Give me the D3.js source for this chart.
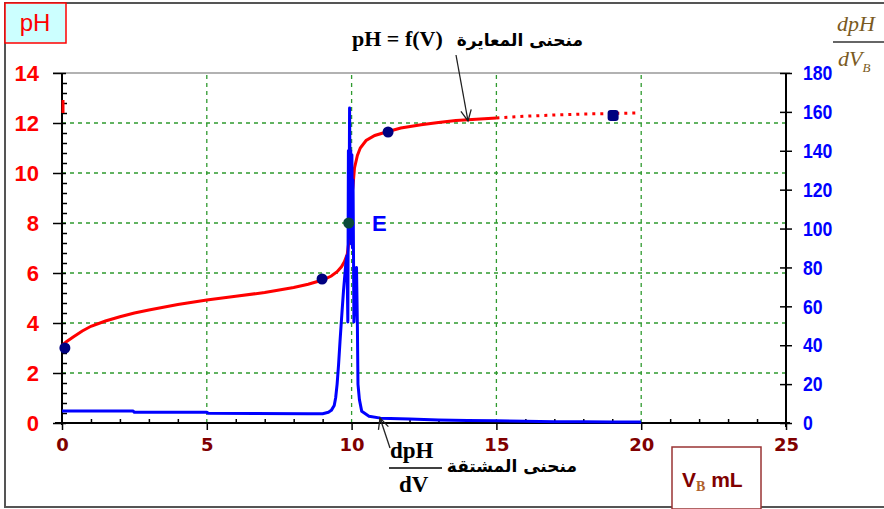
<!DOCTYPE html>
<html>
<head>
<meta charset="utf-8">
<script src="https://cdn.jsdelivr.net/npm/d3@7"></script>
<style>
	body { margin: 0; background: #fff; }
	svg { display: block; }
</style>
</head>
<body>
<div id="chart"></div>
<script>
const width = 884;
const height = 509;

// axis ticks
const vbTicks = [0, 5, 10, 15, 20, 25];
const phTicks = [0, 2, 4, 6, 8, 10, 12, 14];
const derivTicks = [0, 20, 40, 60, 80, 100, 120, 140, 160, 180];

// titration curve pH = f(V), solid part
const phV = [0, 0.15, 0.4, 0.7, 1.0, 1.5, 2.0, 2.5, 3.0, 4.0, 5.0, 6.0, 7.0, 7.5, 8.0, 8.5, 9.0, 9.3, 9.5, 9.65, 9.75, 9.85, 9.9, 9.95, 10.0, 10.05, 10.1, 10.2, 10.3, 10.5, 10.8, 11.2, 11.7, 12.4, 13.0, 13.6, 14.3, 15.0];
const phVal = [3.1, 3.25, 3.45, 3.68, 3.87, 4.08, 4.25, 4.4, 4.52, 4.74, 4.92, 5.07, 5.22, 5.32, 5.42, 5.55, 5.72, 5.88, 6.05, 6.25, 6.45, 6.75, 7.2, 8.0, 9.0, 9.5, 10.2, 10.7, 11.0, 11.3, 11.5, 11.64, 11.8, 11.93, 12.02, 12.1, 12.15, 12.2];

// titration curve, dotted end
const phDotV = [15.0, 16.0, 17.0, 18.0, 19.0, 19.8];
const phDotVal = [12.2, 12.27, 12.32, 12.36, 12.38, 12.4];

// derivative dpH/dV
const derivV = [0, 2.45, 2.5, 5.0, 5.05, 8.5, 9.0, 9.2, 9.3, 9.4, 9.45, 9.5, 9.55, 9.6, 9.65, 9.72, 9.8, 9.84, 9.87, 9.89, 9.91, 9.93, 9.95, 9.97, 9.99, 10.01, 10.03, 10.05, 10.08, 10.17, 10.2, 10.22, 10.27, 10.35, 10.6, 11.0, 12.0, 13.0, 14.0, 15.0, 16.0, 17.0, 18.0, 19.0, 20.0];
const derivVal = [6.2, 6.2, 5.5, 5.5, 5.0, 4.8, 4.8, 5.5, 6.5, 9, 13, 20, 30, 42, 53, 68, 82, 86, 52, 140, 95, 162, 120, 140, 92, 138, 90, 125, 52, 80, 50, 20, 12, 6, 3.5, 2.5, 2.0, 1.6, 1.3, 1.1, 0.9, 0.7, 0.6, 0.5, 0.5];

// marked points
const ptV = [0.1, 8.98, 9.9, 11.26, 19.03];
const ptPH = [3.0, 5.76, 8.0, 11.64, 12.3];

const svg = d3.select("#chart")
	.append("svg")
	.attr("width", width)
	.attr("height", height)

const x = d3.scaleLinear().domain([0, 25]).range([62, 786])
const yL = d3.scaleLinear().domain([0, 14]).range([423, 73])
const yR = d3.scaleLinear().domain([0, 180]).range([423, 73])

// outer frame
svg.append("rect")
	.attr("x", 5).attr("y", 3)
	.attr("width", 900).attr("height", 504)
	.attr("fill", "none")
	.attr("stroke", "#555")
	.attr("stroke-width", 2)

// top border of the plot
svg.append("line")
	.attr("x1", 53).attr("x2", 790)
	.attr("y1", yL(14)).attr("y2", yL(14))
	.attr("stroke", "#999")
	.attr("stroke-width", 1.5)

// grid
const grid = svg.append("g")
	.attr("stroke", "#2f9a2f")
	.attr("stroke-width", 1.3)
	.attr("stroke-dasharray", "4,4")

grid.selectAll(".hg")
	.data(phTicks.filter(d => d > 0 && d < 14))
	.join("line")
	.attr("x1", x(0)).attr("x2", x(25))
	.attr("y1", d => yL(d)).attr("y2", d => yL(d))

grid.selectAll(".vg")
	.data(vbTicks.filter(d => d > 0 && d < 25))
	.join("line")
	.attr("x1", d => x(d)).attr("x2", d => x(d))
	.attr("y1", yL(0)).attr("y2", yL(14))

// left axis, pH
const leftAxis = svg.append("g")
	.attr("transform", `translate(${x(0)},0)`)
	.call(d3.axisLeft(yL).tickValues(phTicks).tickSizeInner(9).tickSizeOuter(0).tickPadding(14))
leftAxis.selectAll("text")
	.attr("fill", "#ff0000")
	.style("font", "bold 22px 'Liberation Sans', Arial, sans-serif")
leftAxis.selectAll("line").attr("x2", -9).attr("x1", 4).attr("stroke", "#000").attr("stroke-width", 1.5)
leftAxis.select(".domain").attr("stroke", "#000").attr("stroke-width", 2)
	.attr("d", `M0,${yL(14)}V${yL(0) + 2}`)

// left minor ticks
const phMinor = d3.range(0, 14.01, 0.4).filter(d => Math.abs(d / 2 - Math.round(d / 2)) > 0.01)
svg.append("g")
	.attr("transform", `translate(${x(0)},0)`)
	.call(d3.axisRight(yL).tickValues(phMinor).tickSize(5).tickFormat(""))
	.call(g => g.select(".domain").remove())
	.selectAll("line").attr("stroke", "#000").attr("stroke-width", 1.5)

// bottom axis, volume
const bottomAxis = svg.append("g")
	.attr("transform", `translate(0,${yL(0)})`)
	.call(d3.axisBottom(x).tickValues(vbTicks).tickSizeInner(7).tickSizeOuter(0).tickPadding(8))
bottomAxis.selectAll("text")
	.attr("fill", "#800000")
	.style("font", "bold 18px 'DejaVu Sans', Verdana, sans-serif")
bottomAxis.selectAll("line").attr("stroke", "#000").attr("stroke-width", 1.5)
bottomAxis.select(".domain").attr("stroke", "#000").attr("stroke-width", 2)
	.attr("d", `M55,0H790`)

// bottom minor ticks
svg.append("g")
	.attr("transform", `translate(0,${yL(0)})`)
	.call(d3.axisTop(x).tickValues(d3.range(1, 25).filter(d => d % 5 != 0)).tickSize(4).tickFormat(""))
	.call(g => g.select(".domain").remove())
	.selectAll("line").attr("stroke", "#000").attr("stroke-width", 1.5)

// right axis, derivative
const rightAxis = svg.append("g")
	.attr("transform", `translate(${x(25)},0)`)
	.call(d3.axisRight(yR).tickValues(derivTicks).tickSizeInner(6).tickSizeOuter(0).tickPadding(11))
rightAxis.selectAll("text")
	.attr("fill", "#0000ff")
	.style("font", "bold 21px 'Liberation Sans', Arial, sans-serif")
	.each(function(){
		// squeeze into a narrow face
		let w = this.getComputedTextLength()
		d3.select(this).attr("textLength", w * 0.84).attr("lengthAdjust", "spacingAndGlyphs")
	})
rightAxis.selectAll("line").attr("x1", -6).attr("stroke", "#000").attr("stroke-width", 1.5)
rightAxis.select(".domain").attr("stroke", "#000").attr("stroke-width", 2)
	.attr("d", `M0,${yR(180)}V${yR(0) + 4}`)

// titration curve
const linePH = d3.line().x(d => x(d[0])).y(d => yL(d[1]))

svg.append("path")
	.datum(d3.zip(phV, phVal))
	.attr("d", linePH)
	.attr("fill", "none")
	.attr("stroke", "#ff0000")
	.attr("stroke-width", 3)

svg.append("path")
	.datum(d3.zip(phDotV, phDotVal))
	.attr("d", linePH)
	.attr("fill", "none")
	.attr("stroke", "#ff0000")
	.attr("stroke-width", 3)
	.attr("stroke-dasharray", "3,5")

// little red mark on the pH axis
svg.append("line")
	.attr("x1", x(0) + 1).attr("x2", x(0) + 1)
	.attr("y1", 100).attr("y2", 113)
	.attr("stroke", "#ff0000")
	.attr("stroke-width", 3)

// derivative curve
const lineD = d3.line().x(d => x(d[0])).y(d => yR(d[1]))

svg.append("path")
	.datum(d3.zip(derivV, derivVal))
	.attr("d", lineD)
	.attr("fill", "none")
	.attr("stroke", "#0000ff")
	.attr("stroke-width", 3)
	.attr("stroke-linejoin", "round")

// points
svg.selectAll(".pt")
	.data(d3.zip(ptV, ptPH))
	.join("rect")
	.attr("x", d => x(d[0]) - 5.5)
	.attr("y", d => yL(d[1]) - 5.5)
	.attr("width", 11).attr("height", 11)
	.attr("rx", (d, i) => i == ptV.length - 1 ? 3 : 5.5)
	.attr("fill", (d, i) => i == 2 ? "#0b4a3a" : "#000080")

svg.append("text")
	.attr("x", 372).attr("y", yL(8) + 8)
	.attr("fill", "#0000ff")
	.style("font", "bold 22px 'Liberation Sans', Arial, sans-serif")
	.text("E")

// pH label box
svg.append("rect")
	.attr("x", 5).attr("y", 3)
	.attr("width", 61).attr("height", 40)
	.attr("fill", "#ccffff")
	.attr("stroke", "#ff0000")
	.attr("stroke-width", 1.5)
svg.append("text")
	.attr("x", 35).attr("y", 31)
	.attr("text-anchor", "middle")
	.attr("fill", "#ff0000")
	.style("font", "24px 'Liberation Sans', Arial, sans-serif")
	.text("pH")

// V_B mL box
svg.append("rect")
	.attr("x", 672).attr("y", 447)
	.attr("width", 89).attr("height", 62)
	.attr("fill", "#fff")
	.attr("stroke", "#993333")
	.attr("stroke-width", 1.5)
const vb = svg.append("text")
	.attr("x", 682).attr("y", 487)
	.attr("fill", "#800000")
	.style("font", "bold 21px 'Liberation Sans', Arial, sans-serif")
vb.append("tspan").text("V")
vb.append("tspan").attr("dy", 4).attr("fill", "#b0602a")
	.style("font", "bold 14px 'Liberation Serif', serif").text("B")
vb.append("tspan").attr("dy", -4).text(" mL")

// right axis label dpH / dV_B
const labColor = "#7a5a22"
svg.append("text")
	.attr("x", 837).attr("y", 31)
	.attr("fill", labColor)
	.style("font", "italic 22px 'Liberation Serif', serif")
	.text("dpH")
svg.append("line")
	.attr("x1", 833).attr("x2", 884)
	.attr("y1", 42).attr("y2", 42)
	.attr("stroke", "#333").attr("stroke-width", 1.5)
const dvb = svg.append("text")
	.attr("x", 838).attr("y", 66)
	.attr("fill", labColor)
	.style("font", "italic 22px 'Liberation Serif', serif")
dvb.append("tspan").text("dV")
dvb.append("tspan").attr("dy", 6).style("font-size", "13px").text("B")

// titration curve annotation
svg.append("text")
	.attr("x", 352).attr("y", 46)
	.attr("fill", "#000")
	.style("font", "bold 22px 'Liberation Serif', serif")
	.text("pH = f(V)")
svg.append("text")
	.attr("x", 583).attr("y", 46)
	.attr("text-anchor", "end")
	.attr("fill", "#000")
	.style("font", "bold 17px 'DejaVu Sans', sans-serif")
	.text("منحنى المعايرة")

function arrow(x1, y1, x2, y2){
	let a = Math.atan2(y2 - y1, x2 - x1)
	let s = 12
	let g = svg.append("g").attr("stroke", "#222").attr("stroke-width", 1.3).attr("fill", "none")
	g.append("line").attr("x1", x1).attr("y1", y1).attr("x2", x2).attr("y2", y2)
	g.append("path").attr("d",
		`M${x2 - s * Math.cos(a - 0.45)},${y2 - s * Math.sin(a - 0.45)}L${x2},${y2}L${x2 - s * Math.cos(a + 0.45)},${y2 - s * Math.sin(a + 0.45)}`)
}
arrow(456, 55, 468, 121)
arrow(390, 448, 380, 418)

// derivative annotation
svg.append("text")
	.attr("x", 390).attr("y", 458)
	.attr("fill", "#000")
	.style("font", "bold 23px 'Liberation Serif', serif")
	.text("dpH")
svg.append("line")
	.attr("x1", 389).attr("x2", 442)
	.attr("y1", 468).attr("y2", 468)
	.attr("stroke", "#000").attr("stroke-width", 1.5)
svg.append("text")
	.attr("x", 399).attr("y", 492)
	.attr("fill", "#000")
	.style("font", "bold 23px 'Liberation Serif', serif")
	.text("dV")
svg.append("text")
	.attr("x", 577).attr("y", 472)
	.attr("text-anchor", "end")
	.attr("fill", "#000")
	.style("font", "bold 17px 'DejaVu Sans', sans-serif")
	.text("منحنى المشتقة")
</script>
</body>
</html>
